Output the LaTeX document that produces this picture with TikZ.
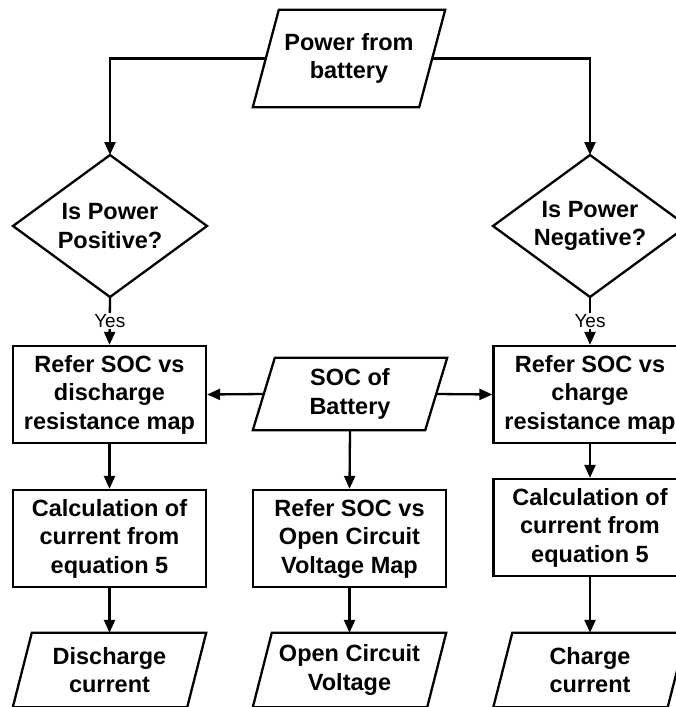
\documentclass[tikz,border=0pt]{standalone}
\usepackage{fontspec}
\setmainfont{Liberation Sans}
\usetikzlibrary{arrows.meta}
\tikzset{
  every node/.style={font=\bfseries\fontsize{23.5}{28.5}\selectfont, align=center, inner sep=0pt},
  box/.style={draw, line width=2.3pt, minimum width=193pt, minimum height=97pt},
  ln/.style={line width=2.3pt},
  arr/.style={line width=2.3pt, -{Triangle[length=13pt,width=11pt]}},
  yeslbl/.style={font=\fontsize{19}{22}\selectfont, fill=white, inner sep=1pt},
}
\begin{document}
\begin{tikzpicture}[x=1pt,y=-1pt]
\clip (0,0) rectangle (676,707);
\fill[white] (0,0) rectangle (676,707);
% top parallelogram
\node[minimum width=166pt, minimum height=97pt] (top) at (349,58.5) {Power from\\battery};
\draw[ln] ([xshift=13pt]top.north west) -- ([xshift=13pt]top.north east) -- ([xshift=-13pt]top.south east) -- ([xshift=-13pt]top.south west) -- cycle;
% diamonds
\node (ldia) at (110,226) {Is Power\\Positive?};
\draw[ln] (110,155) -- (207,226) -- (110,297) -- (13,226) -- cycle;
\coordinate (ldiaT) at (110,155);
\coordinate (ldiaB) at (110,297);
\node (rdia) at (590,226) {Is Power\\Negative?};
\draw[ln] (590,155) -- (687,226) -- (590,297) -- (493,226) -- cycle;
\coordinate (rdiaT) at (590,155);
\coordinate (rdiaB) at (590,297);
% boxes
\node[box] (lmap) at (109.5,394.5) {Refer SOC vs\\discharge\\resistance map};
\node[box] (rmap) at (590,394.5) {Refer SOC vs\\charge\\resistance map};
\node[box] (lcalc) at (109.5,538.5) {Calculation of\\current from\\equation 5};
\node[box] (ocvmap) at (349.5,538.5) {Refer SOC vs\\Open Circuit\\Voltage Map};
\node[box] (rcalc) at (590,527.5) {Calculation of\\current from\\equation 5};
% SOC parallelogram
\node[minimum width=172pt, minimum height=72pt] (soc) at (350,394) {SOC of\\Battery};
\draw[ln] ([xshift=11pt]soc.north west) -- ([xshift=11pt]soc.north east) -- ([xshift=-11pt]soc.south east) -- ([xshift=-11pt]soc.south west) -- cycle;
% bottom parallelograms
\node[minimum width=174pt, minimum height=74pt] (dcur) at (109.5,670) {Discharge\\current};
\draw[ln] ([xshift=9.5pt]dcur.north west) -- ([xshift=9.5pt]dcur.north east) -- ([xshift=-9.5pt]dcur.south east) -- ([xshift=-9.5pt]dcur.south west) -- cycle;
\node[minimum width=174pt, minimum height=74pt] (ocv) at (349.5,670) {Open Circuit\\Voltage};
\draw[ln] ([xshift=9.5pt]ocv.north west) -- ([xshift=9.5pt]ocv.north east) -- ([xshift=-9.5pt]ocv.south east) -- ([xshift=-9.5pt]ocv.south west) -- cycle;
\node[minimum width=174pt, minimum height=74pt] (ccur) at (590,670) {Charge\\current};
\draw[ln] ([xshift=9.5pt]ccur.north west) -- ([xshift=9.5pt]ccur.north east) -- ([xshift=-9.5pt]ccur.south east) -- ([xshift=-9.5pt]ccur.south west) -- cycle;
% connectors
\draw[arr] (top.west) -| (ldiaT);
\draw[arr] (top.east) -| (rdiaT);
\draw[arr] (ldiaB) -- node[yeslbl] {Yes} (lmap.north);
\draw[arr] (rdiaB) -- node[yeslbl] {Yes} (rmap.north);
\draw[arr] (soc.west) -- (lmap.east);
\draw[arr] (soc.east) -- (rmap.west);
\draw[arr] (soc.south) -- (ocvmap.north);
\draw[arr] (lmap.south) -- (lcalc.north);
\draw[arr] (rmap.south) -- (rcalc.north);
\draw[arr] (lcalc.south) -- (dcur.north);
\draw[arr] (ocvmap.south) -- (ocv.north);
\draw[arr] (rcalc.south) -- (ccur.north);
\end{tikzpicture}
\end{document}
